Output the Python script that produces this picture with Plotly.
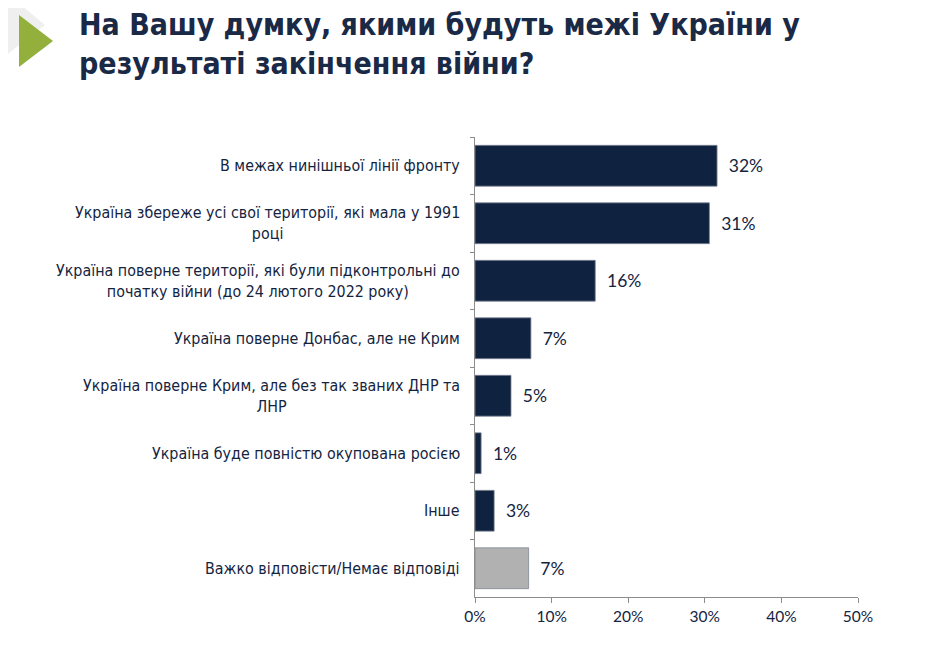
import plotly.graph_objects as go

W, H = 933, 652
OFF = 8  # the page body adds 8px margin around the figure
ML, MR, MT, MB = 475 - OFF, 75 + OFF, 137 - OFF, 55 + OFF

categories = [
    'В межах нинішньої лінії фронту',
    'Україна збереже усі свої території, які мала у 1991<br>році',
    'Україна поверне території, які були підконтрольні до<br>початку війни (до 24 лютого 2022 року)',
    'Україна поверне Донбас, але не Крим',
    'Україна поверне Крим, але без так званих ДНР та<br>ЛНР',
    'Україна буде повністю окупована росією',
    'Інше',
    'Важко відповісти/Немає відповіді',
]
values = [31.6, 30.6, 15.7, 7.3, 4.7, 0.8, 2.5, 7.0]
labels = ['32%', '31%', '16%', '7%', '5%', '1%', '3%', '7%']
bar_colors = ['#0f2340'] * 7 + ['#b1b1b1']

x_ticks = [0, 10, 20, 30, 40, 50]
x_ticktext = ['0%', '10%', '20%', '30%', '40%', '50%']

title_text = 'На Вашу думку, якими будуть межі України у<br>результаті закінчення війни?'

navy = '#14243f'
axis_gray = '#8c8c8c'


def px_to_paper(px, py):
    # screenshot pixels -> paper coords of the plot area
    px, py = px - OFF, py - OFF
    return (px - ML) / (W - ML - MR), (H - MB - py) / (H - MT - MB)


def poly_path(points):
    pts = [px_to_paper(x, y) for x, y in points]
    return 'M ' + ' L '.join(f'{x:.4f},{y:.4f}' for x, y in pts) + ' Z'


fig = go.Figure()
fig.add_trace(go.Bar(
    y=categories,
    x=values,
    orientation='h',
    marker=dict(color=bar_colors, line=dict(color='#7d8594', width=0.8)),
    text=['\u2002' + t for t in labels],
    textposition='outside',
    textfont=dict(family='Lato', size=17.5, color=navy),
    cliponaxis=False,
    hoverinfo='skip',
))

# category labels, centred multi-line like the original
annotations = []
for cat in categories:
    annotations.append(dict(
        x=0, xref='paper', y=cat, yref='y',
        text=cat, showarrow=False,
        xanchor='right', xshift=-13, align='center',
        font=dict(family='DejaVu Sans Condensed', size=15.9, color=navy),
    ))

tx, ty = px_to_paper(77, 5)
annotations.append(dict(
    x=tx, y=ty, xref='paper', yref='paper',
    text='<b>' + title_text + '</b>', showarrow=False,
    xanchor='left', yanchor='top', align='left',
    font=dict(family='DejaVu Sans Condensed', size=30, color='#1a2946'),
))

shapes = [
    dict(type='path', xref='paper', yref='paper', layer='below',
         path=poly_path([(0, 0), (15, 0), (45, 25), (0, 60)]),
         fillcolor='#efefef', line=dict(width=0)),
    dict(type='path', xref='paper', yref='paper',
         path=poly_path([(19, 15), (19, 67), (53, 41)]),
         fillcolor='#93b03d', line=dict(width=0)),
]

fig.update_layout(
    width=W, height=H,
    margin=dict(l=ML, r=MR, t=MT, b=MB),
    paper_bgcolor='white', plot_bgcolor='white',
    showlegend=False,
    bargap=0.29,
    annotations=annotations,
    shapes=shapes,
    xaxis=dict(
        range=[0, 50], tickvals=x_ticks, ticktext=x_ticktext,
        showgrid=False, zeroline=False,
        showline=True, linecolor=axis_gray, linewidth=1.2,
        ticks='outside', ticklen=5, tickcolor=axis_gray,
        tickfont=dict(family='Lato', size=15.5, color=navy),
        fixedrange=True,
    ),
    yaxis=dict(
        categoryorder='array', categoryarray=categories,
        autorange='reversed',
        showticklabels=False, showgrid=False, zeroline=False,
        showline=True, linecolor=axis_gray, linewidth=1.2,
        ticks='outside', tickson='boundaries', ticklen=4, tickcolor=axis_gray,
        fixedrange=True,
    ),
)

fig.write_html('out.html')
